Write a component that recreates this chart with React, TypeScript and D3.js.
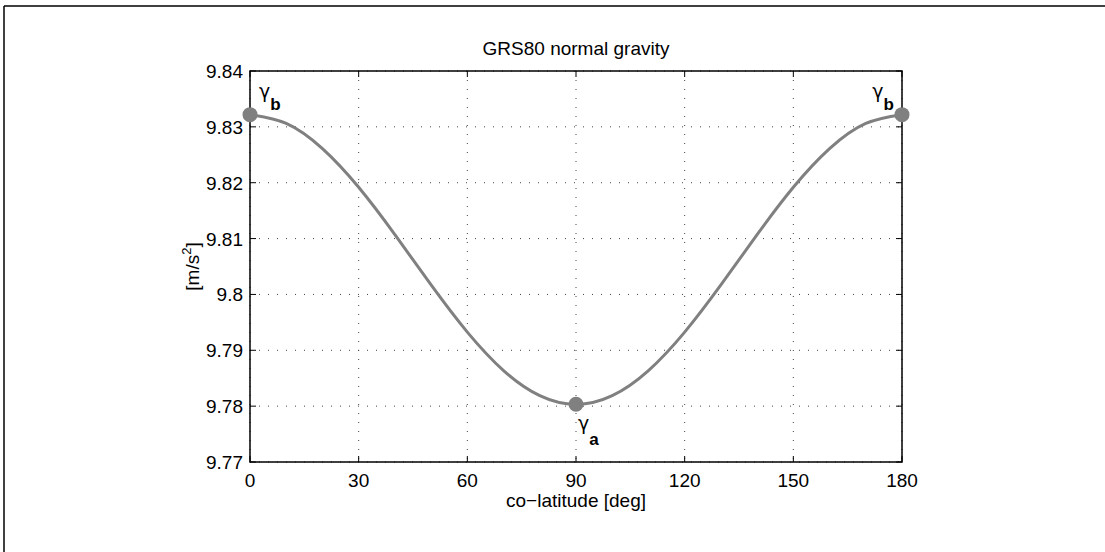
import React from 'react';
import * as d3 from 'd3';

// co-latitude in degrees, normal gravity in m/s^2
const colatitude = [0, 10, 20, 30, 40, 50, 60, 70, 80, 90, 100, 110, 120, 130, 140, 150, 160, 170, 180];
const gravity = [
  9.832186, 9.830616, 9.826097, 9.819179, 9.810705, 9.8017, 9.79325, 9.78637, 9.781884, 9.780327,
  9.781884, 9.78637, 9.79325, 9.8017, 9.810705, 9.819179, 9.826097, 9.830616, 9.832186,
];

const xTicks = [0, 30, 60, 90, 120, 150, 180];
const yTicks = [9.77, 9.78, 9.79, 9.8, 9.81, 9.82, 9.83, 9.84];

// highlighted points: poles (gamma_b) and equator (gamma_a)
const markerX = [0, 90, 180];
const markerY = [9.832186, 9.780327, 9.832186];
const markerSub = ['b', 'a', 'b'];

const W = 1105;
const H = 552;
const FONT = '"Liberation Sans", Arial, Helvetica, sans-serif';
const GREEK = '"DejaVu Sans", sans-serif';

export default function App() {
  const margin = { left: 250, right: 203, top: 71, bottom: 90 };
  const x = d3.scaleLinear().domain([0, 180]).range([margin.left, W - margin.right]);
  const y = d3.scaleLinear().domain([9.77, 9.84]).range([H - margin.bottom, margin.top]);

  const [x0, x1] = x.range();
  const [y0, y1] = [y(9.84), y(9.77)];

  const line = d3
    .line<number>()
    .x((_, i) => x(colatitude[i]))
    .y((d) => y(d))
    .curve(d3.curveNatural);

  const tickLen = 6;

  return (
    <svg
      width={W}
      height={H}
      style={{ position: 'absolute', left: 0, top: 0, background: '#fff' }}
      fontFamily={FONT}
    >
      <rect width={W} height={H} fill="#fff" />
      {/* figure frame */}
      <line x1={4} y1={6} x2={4} y2={H} stroke="#000" strokeWidth={1.5} />
      <line x1={4} y1={6} x2={W} y2={6} stroke="#000" strokeWidth={1.5} />

      {/* grid */}
      {xTicks.map((t) => (
        <line key={'gx' + t} x1={x(t)} x2={x(t)} y1={y0} y2={y1} stroke="#444" strokeWidth={1} strokeDasharray="1,8" />
      ))}
      {yTicks.map((t) => (
        <line key={'gy' + t} x1={x0} x2={x1} y1={y(t)} y2={y(t)} stroke="#444" strokeWidth={1} strokeDasharray="1,8" />
      ))}

      {/* curve */}
      <path d={line(gravity) || ''} fill="none" stroke="#808080" strokeWidth={3} />

      {/* axes box */}
      <rect x={x0} y={y0} width={x1 - x0} height={y1 - y0} fill="none" stroke="#000" strokeWidth={1.5} />

      {/* ticks */}
      {xTicks.map((t) => (
        <g key={'tx' + t}>
          <line x1={x(t)} x2={x(t)} y1={y1} y2={y1 - tickLen} stroke="#000" />
          <line x1={x(t)} x2={x(t)} y1={y0} y2={y0 + tickLen} stroke="#000" />
          <text x={x(t)} y={y1 + 25} textAnchor="middle" fontSize={19} fill="#000">
            {t}
          </text>
        </g>
      ))}
      {yTicks.map((t) => (
        <g key={'ty' + t}>
          <line x1={x0} x2={x0 + tickLen} y1={y(t)} y2={y(t)} stroke="#000" />
          <line x1={x1} x2={x1 - tickLen} y1={y(t)} y2={y(t)} stroke="#000" />
          <text x={x0 - 7} y={y(t) + 7} textAnchor="end" fontSize={19} fill="#000">
            {String(t)}
          </text>
        </g>
      ))}

      {/* markers */}
      {markerX.map((m, i) => (
        <circle key={'m' + i} cx={x(m)} cy={y(markerY[i])} r={7.5} fill="#808080" />
      ))}

      {/* gamma labels */}
      {markerX.map((m, i) => {
        const cx = x(m);
        const cy = y(markerY[i]);
        if (markerSub[i] === 'a') {
          return (
            <text key={'l' + i} x={cx + 2} y={cy + 26} fontSize={19} fill="#000">
              <tspan fontFamily={GREEK}>γ</tspan>
              <tspan dy={15} fontSize={17} fontWeight="bold">
                {markerSub[i]}
              </tspan>
            </text>
          );
        }
        const left = i === 0;
        return (
          <text
            key={'l' + i}
            x={left ? cx + 9 : cx - 8}
            y={cy - 17}
            textAnchor={left ? 'start' : 'end'}
            fontSize={19}
            fill="#000"
          >
            <tspan fontFamily={GREEK}>γ</tspan>
            <tspan dy={12} fontSize={17} fontWeight="bold">
              {markerSub[i]}
            </tspan>
          </text>
        );
      })}

      {/* title & labels */}
      <text x={(x0 + x1) / 2} y={55} textAnchor="middle" fontSize={19} fill="#000">
        GRS80 normal gravity
      </text>
      <text x={(x0 + x1) / 2} y={507} textAnchor="middle" fontSize={19} fill="#000">
        co−latitude [deg]
      </text>
      <text transform={`translate(199,${(y0 + y1) / 2}) rotate(-90)`} textAnchor="middle" fontSize={19} fill="#000">
        [m/s
        <tspan dy={-8} fontSize={13}>
          2
        </tspan>
        <tspan dy={8}>]</tspan>
      </text>
    </svg>
  );
}
